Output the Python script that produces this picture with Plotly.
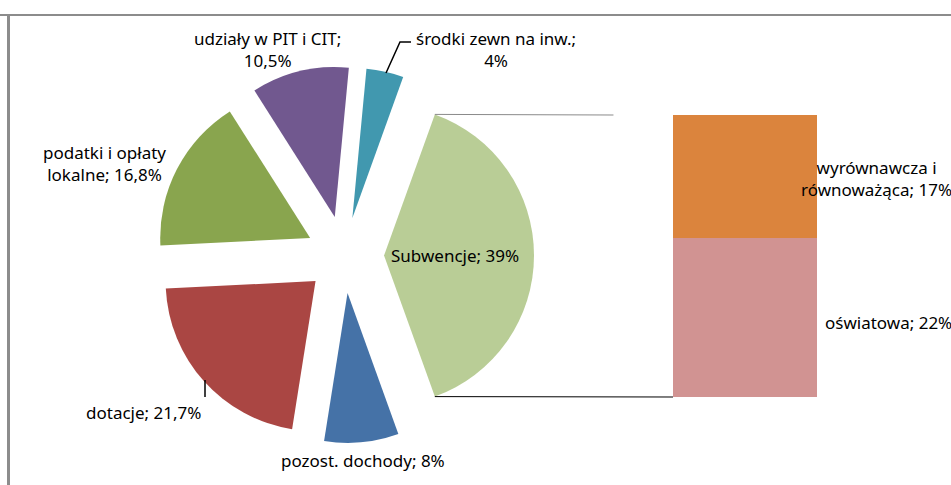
import numpy as np
import plotly.graph_objects as go

W, H = 951, 485

# ---- data ----
pie_names = ["Subwencje", "pozost. dochody", "dotacje", "podatki i opłaty lokalne",
             "udziały w PIT i CIT", "środki zewn na inw."]
pie_label_text = ["Subwencje", "pozost. dochody", "dotacje", "podatki i opłaty<br>lokalne",
                  "udziały w PIT i CIT;<br>", "środki zewn na inw.;<br>"]
pie_values = [39, 8, 21.7, 16.8, 10.5, 4]
pie_colors = ["#B9CD96", "#4572A7", "#AA4643", "#89A54E", "#71588F", "#4198AF"]
pie_pull = [0.267, 0.251, 0.255, 0.254, 0.264, 0.256]

bar_names = ["oświatowa", "wyrównawcza i równoważąca"]
bar_label_text = ["oświatowa", "wyrównawcza i<br>równoważąca"]
bar_values = [22, 17]
bar_colors = ["#D19392", "#DB843D"]


def fmt(v):
    s = ("%g" % v).replace(".", ",")
    return s + "%"


def px(x):
    return x / W


def py(y):
    return 1 - y / H


# ---- pie geometry (pixels) ----
cx, cy, half = 344.0, 255.5, 190.0
pie_dom_x = [px(cx - half), px(cx + half)]
pie_dom_y = [py(cy + half), py(cy - half)]
r = half / (1 + max(pie_pull))
total = sum(pie_values)
start_angle = 90 - pie_values[0] / total * 360 / 2   # "other" slice centred at 3 o'clock

# ---- bar geometry ----
bar_x_dom = [px(673), px(817)]
bar_y_dom = [py(397), py(115)]

fig = go.Figure()
fig.add_trace(go.Pie(
    labels=pie_names, values=pie_values, sort=False, direction="clockwise",
    rotation=start_angle, pull=pie_pull, textinfo="none", hoverinfo="label+percent",
    marker=dict(colors=pie_colors, line=dict(width=0)),
    domain=dict(x=pie_dom_x, y=pie_dom_y), showlegend=False,
))

for name, val, col in zip(bar_names, bar_values, bar_colors):
    fig.add_trace(go.Bar(x=[0], y=[val], name=name, marker=dict(color=col, line=dict(width=0)),
                         width=1, xaxis="x", yaxis="y", showlegend=False))

fig.update_layout(
    barmode="stack",
    width=W, height=H,
    margin=dict(l=0, r=0, t=0, b=0),
    paper_bgcolor="white", plot_bgcolor="white",
    xaxis=dict(domain=bar_x_dom, range=[-0.5, 0.5], visible=False, fixedrange=True),
    yaxis=dict(domain=bar_y_dom, range=[0, sum(bar_values)], visible=False, fixedrange=True),
    font=dict(family="Noto Sans, Open Sans, sans-serif", size=17, color="#000000"),
)

# connector lines from the "Subwencje" slice to the bar
mid = np.deg2rad(90)
apex = (cx + pie_pull[0] * r * np.sin(mid), cy - pie_pull[0] * r * np.cos(mid))
a0 = np.deg2rad(start_angle)
a1 = np.deg2rad(start_angle + pie_values[0] / total * 360)
top_pt = (apex[0] + r * np.sin(a0), apex[1] - r * np.cos(a0))
bot_pt = (apex[0] + r * np.sin(a1), apex[1] - r * np.cos(a1))
top_end_x = top_pt[0] + 0.75 * (673 - top_pt[0])   # faint line fades before reaching the bar
shapes = [
    dict(type="line", xref="paper", yref="paper", x0=px(top_pt[0]), y0=py(top_pt[1]),
         x1=px(top_end_x), y1=bar_y_dom[1], line=dict(color="#8a8a8a", width=1)),
    dict(type="line", xref="paper", yref="paper", x0=px(bot_pt[0]), y0=py(bot_pt[1]),
         x1=bar_x_dom[0], y1=bar_y_dom[0], line=dict(color="#000000", width=1)),
    # frame
    dict(type="line", xref="paper", yref="paper", x0=0, y0=py(15), x1=1, y1=py(15),
         line=dict(color="#8c8c8c", width=2)),
    dict(type="line", xref="paper", yref="paper", x0=px(8.5), y0=0, x1=px(8.5), y1=py(14),
         line=dict(color="#8c8c8c", width=3)),
    # leader lines
    dict(type="path", xref="paper", yref="paper",
         path=f"M {px(386)},{py(73)} L {px(400)},{py(42)} L {px(411)},{py(42)}",
         line=dict(color="#000000", width=1.5)),
    dict(type="line", xref="paper", yref="paper", x0=px(205), y0=py(380), x1=px(205), y1=py(397),
         line=dict(color="#000000", width=1.5)),
]
fig.update_layout(shapes=shapes)

# labels
pie_label_pos = [(455, 255), (363, 460), (143.5, 412), (104, 163.5), (267, 49.5), (496, 49.5)]
ann = []
for t, v, (x, y) in zip(pie_label_text, pie_values, pie_label_pos):
    sep = "" if t.endswith("<br>") else "; "
    ann.append(dict(text=t + sep + fmt(v), x=px(x), y=py(y), xref="paper", yref="paper",
                    showarrow=False, xanchor="center", yanchor="middle", align="center"))
bar_label_pos = [(888, 322), (876, 178.5)]
for t, v, (x, y) in zip(bar_label_text, bar_values, bar_label_pos):
    ann.append(dict(text=t + "; " + fmt(v), x=px(x), y=py(y), xref="paper", yref="paper",
                    showarrow=False, xanchor="center", yanchor="middle", align="center"))
fig.update_layout(annotations=ann)

fig.write_html("out.html", config={"displayModeBar": False},
               post_script="document.body.style.margin='0';document.body.style.overflow='hidden';")
